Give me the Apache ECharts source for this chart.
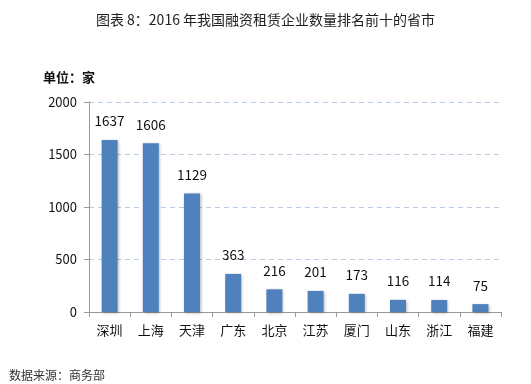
<!DOCTYPE html>
<html><head><meta charset="utf-8">
<script src="https://cdn.jsdelivr.net/npm/echarts@6/dist/echarts.min.js"></script>
<style>html,body{margin:0;padding:0;background:#fff}#c{width:531px;height:384px}</style>
</head><body><div id="c"></div>
<script>
const categories = ['深圳','上海','天津','广东','北京','江苏','厦门','山东','浙江','福建'];
const values = [1637,1606,1129,363,216,201,173,116,114,75];
const yTicks = [0,500,1000,1500,2000];
const titleText = '图表 8：2016 年我国融资租赁企业数量排名前十的省市';
const unitText = '单位：家';
const sourceText = '数据来源：商务部';
const font = '"Noto Sans CJK SC", "Noto Sans", sans-serif';
const chart = echarts.init(document.getElementById('c'), null, {renderer:'canvas'});
chart.setOption({
  animation:false,
  backgroundColor:'#fff',
  title:[
    {text:titleText, left:'center', top:8, textStyle:{fontSize:14, fontWeight:'normal', color:'#222', fontFamily:font}},
    {text:unitText, left:38, top:66, textStyle:{fontSize:13, fontWeight:'bold', color:'#111', fontFamily:font}},
    {text:sourceText, left:4, top:364, textStyle:{fontSize:12, fontWeight:'normal', color:'#333', fontFamily:font}}
  ],
  grid:{left:89, right:30, top:102, bottom:72},
  xAxis:{type:'category', data:categories,
    axisLine:{lineStyle:{color:'#999'}},
    axisTick:{show:true, alignWithLabel:false, length:5, lineStyle:{color:'#999'}},
    axisLabel:{fontSize:13, color:'#111', margin:12, fontFamily:font}},
  yAxis:{type:'value', min:yTicks[0], max:yTicks[yTicks.length-1], interval:yTicks[1]-yTicks[0],
    axisLine:{show:true, lineStyle:{color:'#999'}},
    axisTick:{show:true, length:5, lineStyle:{color:'#999'}, inside:false},
    axisLabel:{fontSize:13, color:'#111', margin:12, fontFamily:font, formatter:v=>String(v)},
    splitLine:{show:true, lineStyle:{color:'#b8cce4', type:[5,4], width:1}}},
  series:[{type:'bar', data:values, barWidth:16,
    itemStyle:{color:'#4f81bd', shadowColor:'rgba(0,0,0,0.3)', shadowBlur:3, shadowOffsetX:1, shadowOffsetY:1},
    label:{show:true, position:'top', distance:12, fontSize:13.5, color:'#111', fontFamily:font}}]
});
</script></body></html>
